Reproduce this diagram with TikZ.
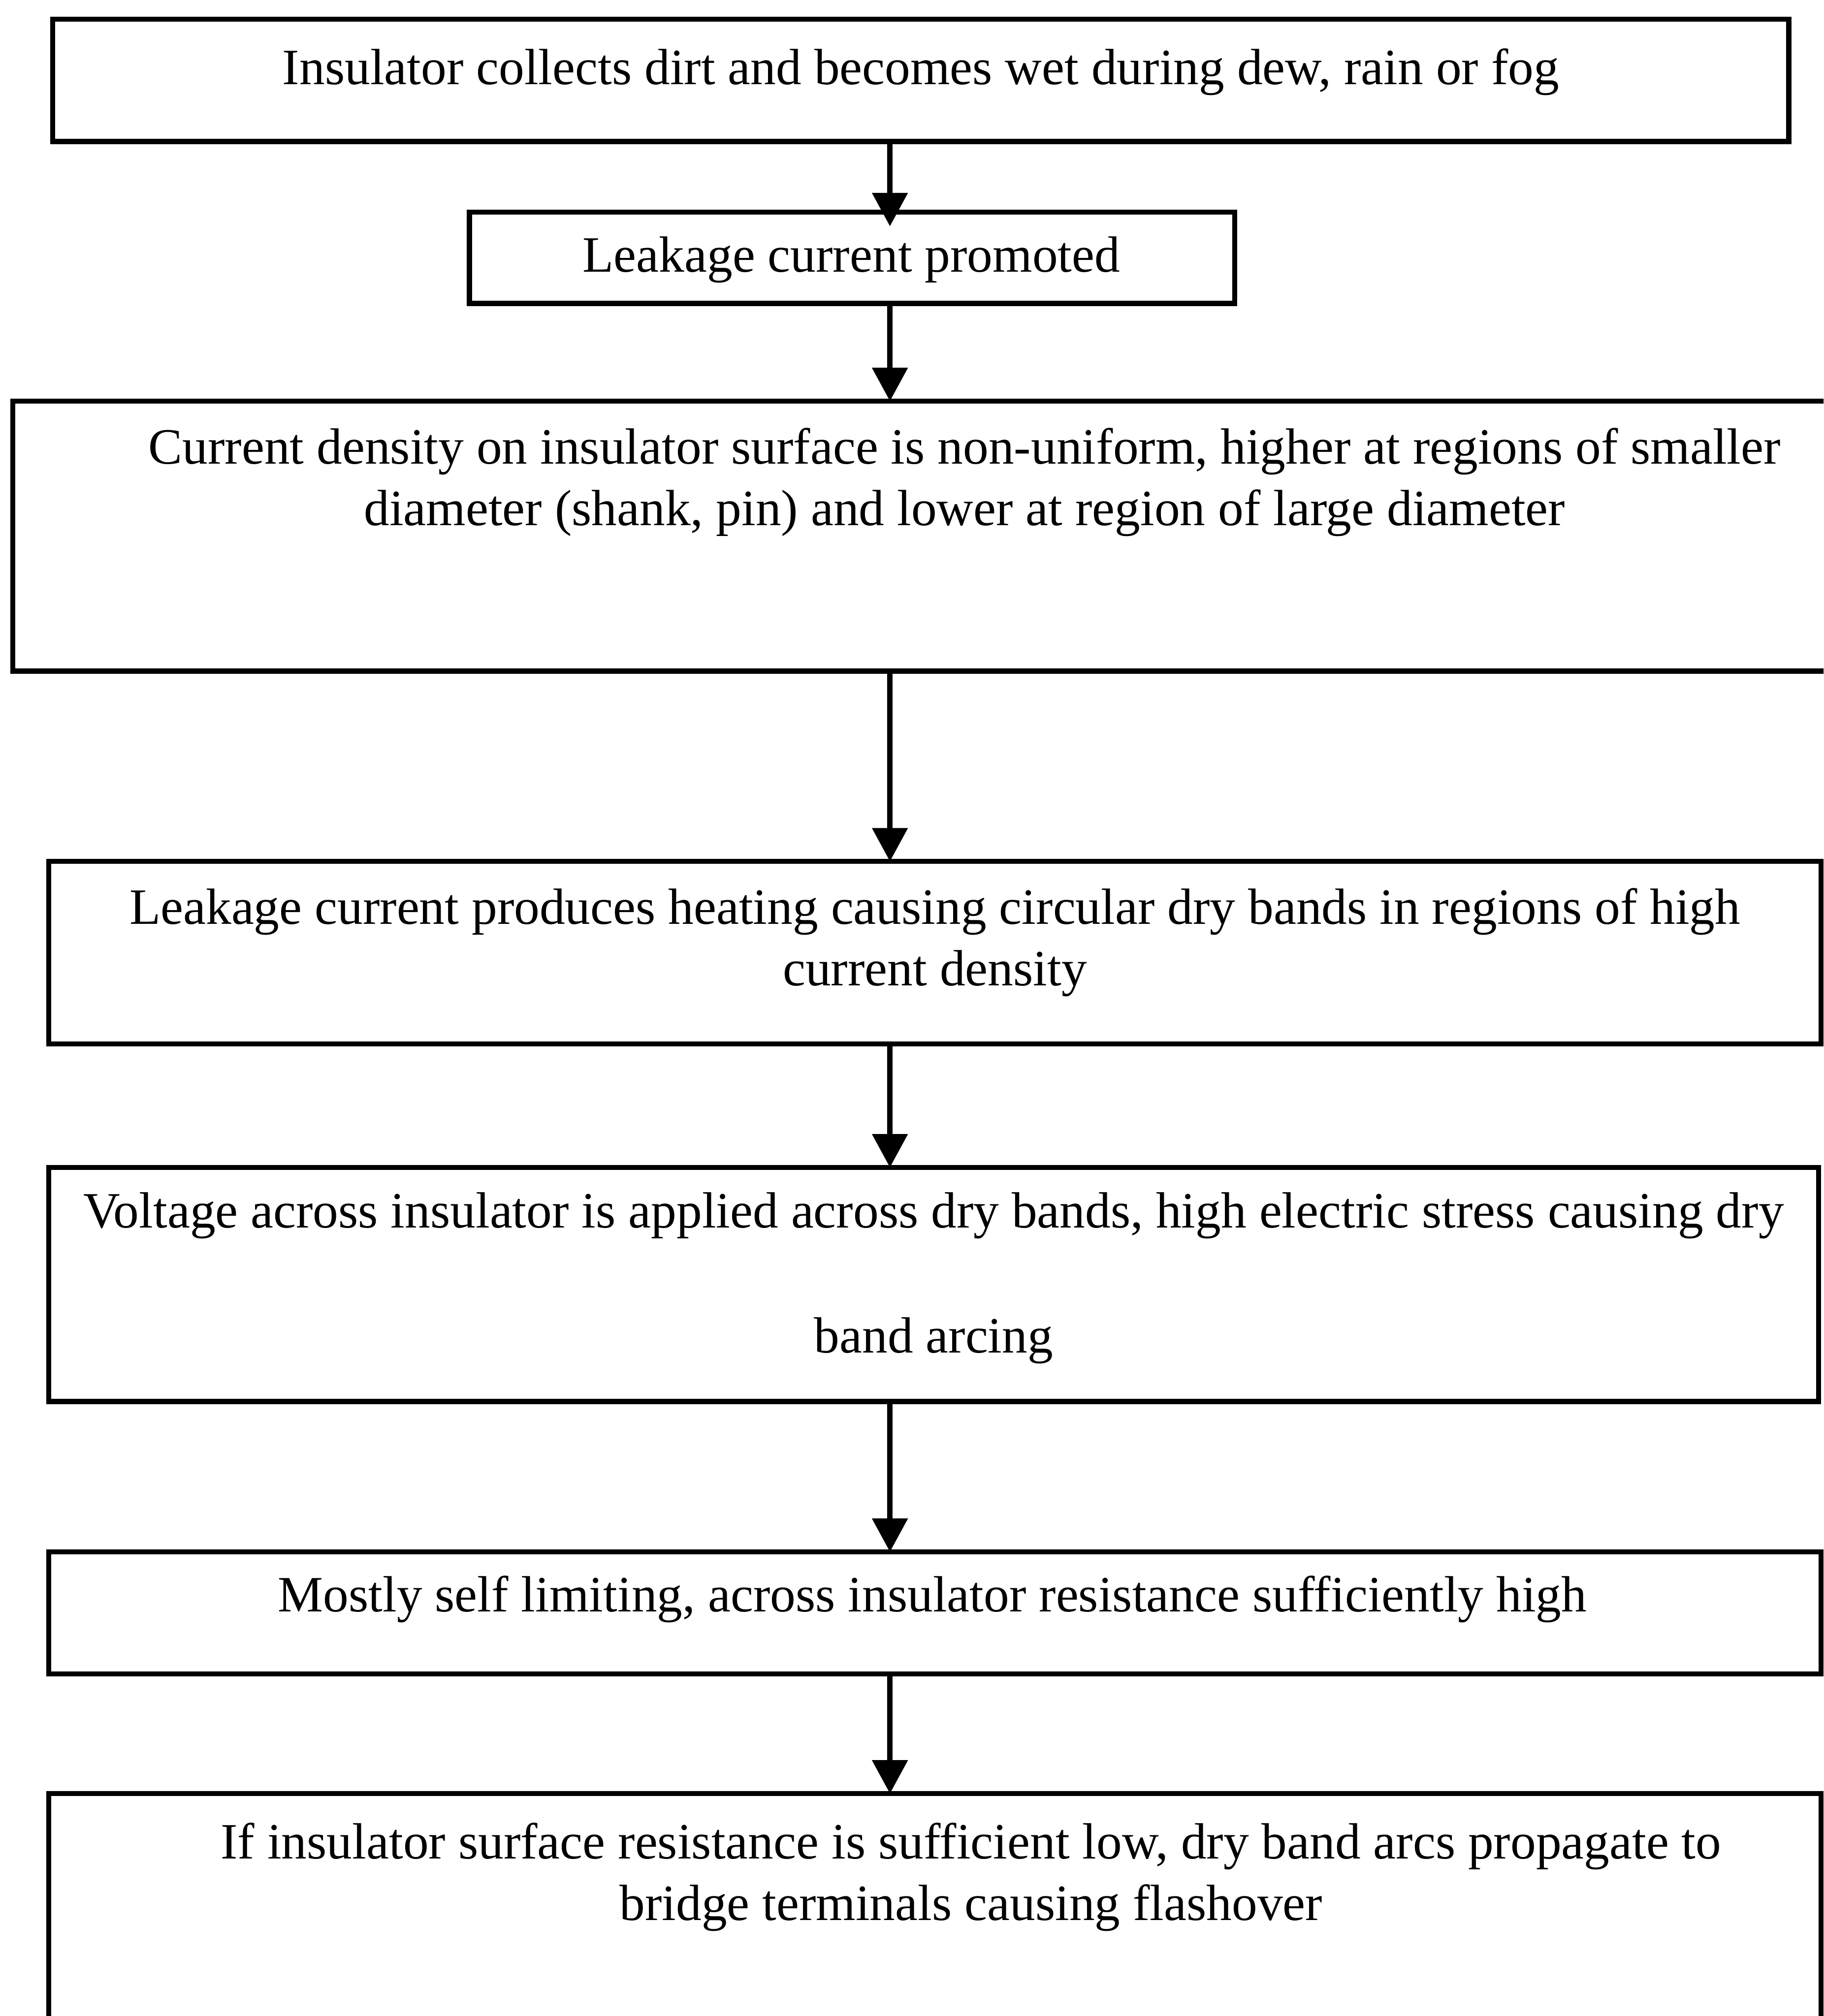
\documentclass[tikz,border=0pt]{standalone}
\usepackage{fontspec}
\setmainfont{Liberation Serif}
\usetikzlibrary{arrows.meta,calc}

\begin{document}
\begin{tikzpicture}[x=1pt,y=-1pt,
  >={Triangle[width=27pt,length=26pt]},
  box/.style={draw,line width=4pt,inner sep=0pt,outer sep=0pt},
  txt/.style={align=center,inner sep=0pt,font=\fontsize{39.6}{48}\selectfont},
  arr/.style={->,line width=4pt}]
  \clip (0,0) rectangle (1418,1568);
  \coordinate (ax) at (692,0);
  % boxes of the chain
  \node[box,minimum width=1350pt,minimum height=95pt] (b1) at (716,62.5) {};
  \node[box,minimum width=595pt,minimum height=71pt] (b2) at (662.5,200.5) {};
  \node[box,minimum width=1430pt,minimum height=210pt] (b3) at (725,417) {};
  \node[box,minimum width=1378pt,minimum height=142pt] (b4) at (727,741) {};
  \node[box,minimum width=1376pt,minimum height=182pt] (b5) at (726,999) {};
  \node[box,minimum width=1378pt,minimum height=95pt] (b6) at (727,1254.5) {};
  \node[box,minimum width=1378pt,minimum height=225pt] (b7) at (727,1507.5) {};
  % texts
  \node[txt] (t1) at (716,56) {Insulator collects dirt and becomes wet during dew, rain or fog};
  \node[txt] (t2) at (662,202) {Leakage current promoted};
  \node[txt] (t3) at (750,375) {Current density on insulator surface is non-uniform, higher at regions of smaller\\
    diameter (shank, pin) and lower at region of large diameter};
  \node[txt] (t4) at (727,733) {Leakage current produces heating causing circular dry bands in regions of high\\
    current density};
  \node[txt] (t5) at (726,994) {Voltage across insulator is applied across dry bands, high electric stress causing dry\\[49pt]
    band arcing};
  \node[txt] (t6) at (725,1244) {Mostly self limiting, across insulator resistance sufficiently high};
  \node[txt] (t7) at (755,1460) {If insulator surface resistance is sufficient low, dry band arcs propagate to\\
    bridge terminals causing flashover};
  % arrows
  \draw[arr] (b1.south -| ax) -- ($(b2.north -| ax)+(0,11)$);
  \draw[arr] (b2.south -| ax) -- (b3.north -| ax);
  \draw[arr] (b3.south -| ax) -- (b4.north -| ax);
  \draw[arr] (b4.south -| ax) -- (b5.north -| ax);
  \draw[arr] (b5.south -| ax) -- (b6.north -| ax);
  \draw[arr] (b6.south -| ax) -- (b7.north -| ax);
\end{tikzpicture}
\end{document}
